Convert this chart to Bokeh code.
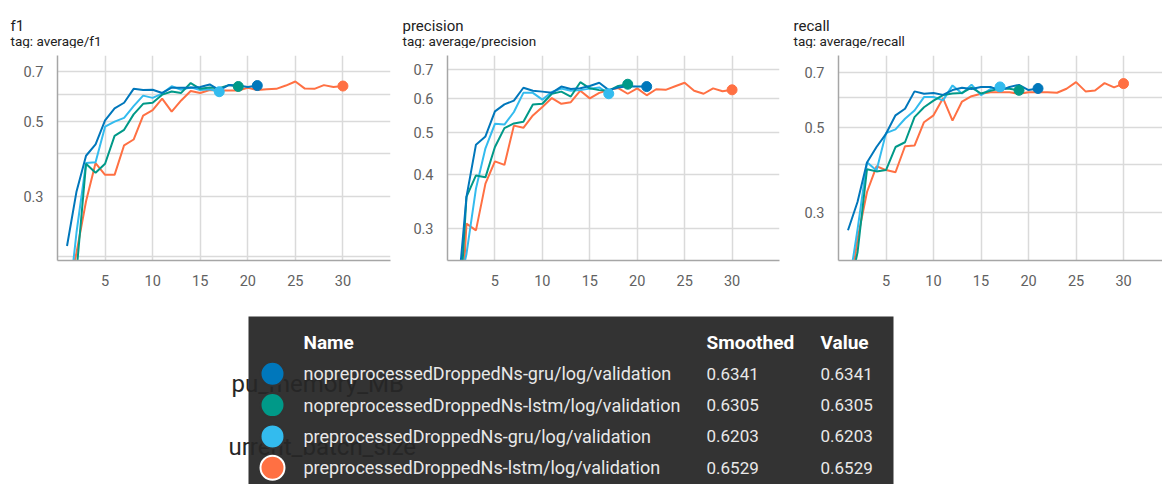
from bokeh.plotting import figure
from bokeh.layouts import row, column, Spacer
from bokeh.models import Range1d, FixedTicker, CustomJSTickFormatter
from bokeh.embed import file_html
from bokeh.resources import INLINE
from bokeh.core.properties import value

FONT = "Roboto"

# ---- runs ----
runs = [
    "nopreprocessedDroppedNs-gru/log/validation",
    "nopreprocessedDroppedNs-lstm/log/validation",
    "preprocessedDroppedNs-gru/log/validation",
    "preprocessedDroppedNs-lstm/log/validation",
]
run_colors = ["#0077bb", "#009988", "#33bbee", "#ff7043"]
smoothed = ["0.6341", "0.6305", "0.6203", "0.6529"]
values_ = ["0.6341", "0.6305", "0.6203", "0.6529"]
ghost_texts = ["pu_memory_MB", "urrent_batch_size"]

chart_titles = ["f1", "precision", "recall"]
chart_tags = ["tag: average/f1", "tag: average/precision", "tag: average/recall"]

# ---- f1 ----
f1_first_epoch = [1, 2, 1, 1]
f1_gru_np = [0.214, 0.310, 0.395, 0.427, 0.502, 0.545, 0.566, 0.622, 0.617, 0.618, 0.605,
             0.627, 0.627, 0.627, 0.630, 0.641, 0.617, 0.638, 0.636, 0.630, 0.636]
f1_lstm_np = [0.180, 0.374, 0.352, 0.374, 0.452, 0.471, 0.523, 0.562, 0.566, 0.598, 0.611,
              0.605, 0.647, 0.622, 0.628, 0.625, 0.638, 0.632]
f1_gru_p = [0.130, 0.235, 0.376, 0.378, 0.481, 0.498, 0.511, 0.553, 0.594, 0.585, 0.602,
            0.633, 0.618, 0.629, 0.617, 0.620, 0.610]
f1_lstm_p = [0.150, 0.205, 0.290, 0.376, 0.347, 0.347, 0.424, 0.441, 0.519, 0.538, 0.582,
             0.533, 0.575, 0.613, 0.605, 0.617, 0.615, 0.615, 0.615, 0.627, 0.617, 0.620,
             0.622, 0.636, 0.654, 0.623, 0.622, 0.638, 0.630, 0.634]

# ---- precision ----
precision_first_epoch = [1, 1, 1, 1]
precision_gru_np = [0.200, 0.355, 0.469, 0.490, 0.560, 0.581, 0.593, 0.635, 0.625, 0.622, 0.618,
                    0.639, 0.631, 0.633, 0.641, 0.652, 0.627, 0.636, 0.640, 0.639, 0.639]
precision_lstm_np = [0.152, 0.355, 0.398, 0.394, 0.463, 0.512, 0.525, 0.530, 0.581, 0.583, 0.615,
                     0.622, 0.606, 0.654, 0.633, 0.627, 0.625, 0.641, 0.647]
precision_gru_p = [0.208, 0.262, 0.371, 0.460, 0.524, 0.522, 0.558, 0.618, 0.618, 0.596, 0.621,
                   0.632, 0.625, 0.627, 0.632, 0.636, 0.615]
precision_lstm_p = [0.120, 0.308, 0.297, 0.381, 0.429, 0.421, 0.519, 0.513, 0.548, 0.573, 0.601,
                    0.583, 0.588, 0.625, 0.600, 0.618, 0.627, 0.634, 0.615, 0.633, 0.610, 0.630,
                    0.628, 0.640, 0.652, 0.625, 0.615, 0.633, 0.623, 0.628]

# ---- recall ----
recall_first_epoch = [1, 1, 1, 1]
recall_gru_np = [0.269, 0.319, 0.405, 0.445, 0.482, 0.539, 0.561, 0.623, 0.614, 0.617, 0.610,
                 0.628, 0.637, 0.632, 0.640, 0.640, 0.626, 0.640, 0.648, 0.628, 0.634]
recall_lstm_np = [0.180, 0.235, 0.389, 0.384, 0.387, 0.445, 0.458, 0.533, 0.566, 0.589, 0.609,
                  0.615, 0.617, 0.637, 0.615, 0.625, 0.634, 0.633, 0.627]
recall_gru_p = [0.186, 0.270, 0.406, 0.386, 0.484, 0.495, 0.528, 0.555, 0.602, 0.602, 0.590,
                0.646, 0.615, 0.649, 0.609, 0.632, 0.640]
recall_lstm_p = [0.170, 0.255, 0.339, 0.396, 0.387, 0.382, 0.447, 0.449, 0.517, 0.539, 0.598,
                 0.522, 0.586, 0.605, 0.614, 0.620, 0.620, 0.620, 0.614, 0.620, 0.620, 0.620,
                 0.618, 0.633, 0.659, 0.623, 0.626, 0.655, 0.638, 0.653]

x_ticks = [5, 10, 15, 20, 25, 30, 35]
x_labels = [5, 10, 15, 20, 25, 30]
y_ticks = [0.2, 0.3, 0.4, 0.5, 0.6, 0.7]

PAGE_W = 1162
HEAD_H = 48     # title strip height
CH_H = 242      # chart figure height (below the title strip)
B_TOP = 7       # space above plot frame
B_BOT = 30      # space below plot frame

panel_widths = [398, 390, 374]
panel_border_left = [57, 49, 50]
panel_border_right = [8, 9, 0]
panel_title_x = [10, 402, 793]


def chart(series, first, y_lo, y_hi, y_labels, width, bl, br, x_max):
    p = figure(width=width, height=CH_H, x_range=Range1d(0, x_max), y_range=Range1d(y_lo, y_hi),
               y_axis_type="log", output_backend="svg", toolbar_location=None,
               min_border_left=bl, min_border_right=br, min_border_top=B_TOP,
               min_border_bottom=B_BOT, title=None)
    p.outline_line_color = None

    p.xaxis.ticker = FixedTicker(ticks=x_ticks)
    p.yaxis.ticker = FixedTicker(ticks=y_ticks)
    p.xgrid.ticker = FixedTicker(ticks=x_ticks)
    p.ygrid.ticker = FixedTicker(ticks=y_ticks)
    p.xaxis.formatter = CustomJSTickFormatter(args=dict(labels=x_labels),
                                              code="return labels.includes(tick) ? String(tick) : '';")
    p.yaxis.formatter = CustomJSTickFormatter(
        args=dict(labels=y_labels),
        code="const v = Math.round(tick*10)/10; return labels.includes(v) ? v.toFixed(1) : '';")
    for ax in (p.xaxis, p.yaxis):
        ax.major_tick_line_color = None
        ax.minor_tick_line_color = None
        ax.major_label_text_font = FONT
        ax.major_label_text_font_size = "14.5px"
        ax.major_label_text_color = "#616161"
        ax.axis_line_color = "#a6a6a6"
        ax.axis_line_width = 1.5
    p.xaxis.major_label_standoff = 8
    p.yaxis.major_label_standoff = 8
    p.grid.grid_line_color = "#dadada"
    p.grid.grid_line_width = 1.5

    order = [3, 2, 1, 0]
    for i in order:
        xs = list(range(first[i], first[i] + len(series[i])))
        p.line(xs, series[i], line_color=run_colors[i], line_width=2)
    for i in order:
        xs = list(range(first[i], first[i] + len(series[i])))
        p.scatter([xs[-1]], [series[i][-1]], size=10, color=run_colors[i])
    return p


# ---- title strip (coordinates in page pixels) ----
h = figure(width=PAGE_W, height=HEAD_H, x_range=Range1d(0, PAGE_W), y_range=Range1d(HEAD_H, 0),
           output_backend="svg", toolbar_location=None, min_border=0)
h.xaxis.visible = False
h.yaxis.visible = False
h.grid.visible = False
h.outline_line_color = None
h.text(x=panel_title_x, y=[25] * 3, text=chart_titles, text_font=value(FONT), text_font_size="15px",
       text_color="#212121", text_baseline="alphabetic")
h.text(x=panel_title_x, y=[40] * 3, text=chart_tags, text_font=value(FONT), text_font_size="13.5px",
       text_color="#212121", text_baseline="alphabetic")

p1 = chart([f1_gru_np, f1_lstm_np, f1_gru_p, f1_lstm_p], f1_first_epoch,
           0.194, 0.78, [0.3, 0.5, 0.7], panel_widths[0], panel_border_left[0], panel_border_right[0], 35)
p2 = chart([precision_gru_np, precision_lstm_np, precision_gru_p, precision_lstm_p],
           precision_first_epoch, 0.253, 0.754, [0.3, 0.4, 0.5, 0.6, 0.7],
           panel_widths[1], panel_border_left[1], panel_border_right[1], 35)
p3 = chart([recall_gru_np, recall_lstm_np, recall_gru_p, recall_lstm_p], recall_first_epoch,
           0.224, 0.774, [0.3, 0.5, 0.7], panel_widths[2], panel_border_left[2], panel_border_right[2], 34.1)

# ---- run table (coordinates in page pixels) ----
T_X0, T_X1 = 220, 900
T_Y0, T_Y1 = HEAD_H + CH_H, 484
t = figure(width=T_X1 - T_X0, height=T_Y1 - T_Y0, x_range=Range1d(T_X0, T_X1),
           y_range=Range1d(T_Y1, T_Y0), output_backend="svg", toolbar_location=None, min_border=0)
t.xaxis.visible = False
t.yaxis.visible = False
t.grid.visible = False
t.outline_line_color = None
box_l, box_r, box_t = 248, 893, 316
t.quad(left=[box_l], right=[box_r], top=[box_t], bottom=[T_Y1], fill_color="#333333", line_color=None)

header_y = 342
row_h = 31.3
row_y = [header_y + row_h * (i + 1) for i in range(len(runs))]
col_name, col_sm, col_val, col_dot = 303, 706, 820, 272

ghost_y = [row_y[0] + row_h * 0.33, row_y[2] + row_h * 0.33]
t.text(x=[231, 228], y=ghost_y, text=ghost_texts, text_font=value(FONT), text_font_size="24px",
       text_color="#262626", text_baseline="middle")

t.text(x=[col_name, col_sm, col_val], y=[header_y] * 3, text=["Name", "Smoothed", "Value"],
       text_font=value(FONT), text_font_size="19px", text_font_style="bold",
       text_color="#ffffff", text_baseline="middle")
t.scatter(x=[col_dot] * len(runs), y=row_y, size=24, fill_color=run_colors,
          line_color=["#333333"] * 3 + ["#ffffff"], line_width=2)
t.text(x=[col_name] * len(runs), y=row_y, text=runs, text_font=value(FONT), text_font_size="18px",
       text_color="#e8e8e8", text_baseline="middle")
t.text(x=[col_sm] * len(runs), y=row_y, text=smoothed, text_font=value(FONT), text_font_size="17px",
       text_color="#e8e8e8", text_baseline="middle")
t.text(x=[col_val] * len(runs), y=row_y, text=values_, text_font=value(FONT), text_font_size="17px",
       text_color="#e8e8e8", text_baseline="middle")

layout = column(h, row(p1, p2, p3), row(Spacer(width=T_X0, height=T_Y1 - T_Y0), t))

open("out.html", "w").write(file_html(layout, INLINE))
